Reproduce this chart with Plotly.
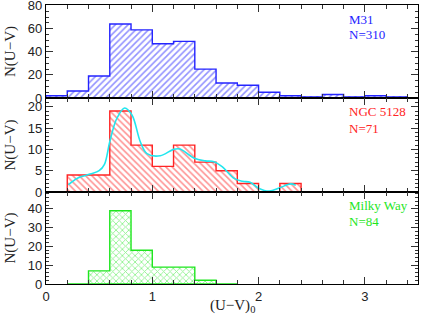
import numpy as np
import plotly.graph_objects as go
from plotly.subplots import make_subplots

# histogram counts, bin width 0.2 in (U-V)0
m31_start = 0.0
m31_counts = [2, 6, 19, 64, 59, 47, 49, 25, 13, 11, 5, 2, 1, 3, 1, 2, 1]
ngc_start = 0.0
ngc_counts = [0, 4, 4, 19, 11, 6, 11, 7, 5, 2, 0, 2, 0]
mw_start = 0.2
mw_counts = [0, 7, 39, 18, 9, 9, 2, 0]
binw = 0.2

# smoothed NGC 5128 distribution (cyan curve)
kde_x = [0.21, 0.3, 0.415, 0.5, 0.55, 0.6, 0.667, 0.74, 0.81, 0.887, 0.95, 1.075,
         1.2, 1.26, 1.39, 1.5, 1.58, 1.66, 1.77, 1.85, 1.92, 2.0, 2.1, 2.2, 2.3, 2.35]
kde_y = [1.7, 3.3, 4.2, 5.0, 6.5, 11.8, 17.3, 19.7, 18.0, 11.8, 9.0, 8.5,
         10.0, 10.1, 8.0, 7.3, 7.1, 5.9, 3.2, 2.5, 2.3, 0.9, 0.2, 1.0, 1.9, 1.6]

panels = [
    ("M31", "N=310", m31_start, m31_counts, "#2424ff", "/", [0, 80.5], 20, 5, 20, 34),
    ("NGC 5128", "N=71", ngc_start, ngc_counts, "#ff2424", "\\", [0, 22.05], 5, 1, 111, 128),
    ("Milky Way", "N=84", mw_start, mw_counts, "#1ee61e", "x", [0, 49], 10, 2, 205, 221),
]

fig = make_subplots(rows=3, cols=1, shared_xaxes=True, vertical_spacing=0,
                    row_heights=[93, 94, 92])

serif = "Liberation Serif"
sans = "Liberation Sans"

for i, (name, ntext, start, counts, col, shape, yr, dt, mdt, ty1, ty2) in enumerate(panels):
    row = i + 1
    counts = np.array(counts, dtype=float)
    edges = start + binw * np.arange(len(counts) + 1)
    centers = edges[:-1] + binw / 2
    fig.add_trace(go.Bar(x=centers, y=counts, width=binw,
                         marker=dict(color="white", line_width=0,
                                     pattern=dict(shape=shape, fgcolor=col, bgcolor="white",
                                                  size=4.5, solidity=0.35, fillmode="overlay")),
                         showlegend=False), row=row, col=1)
    sx = np.concatenate([[edges[0]], edges, [edges[0]]])
    sy = np.concatenate([[0], counts, [0, 0]])
    fig.add_trace(go.Scatter(x=sx, y=sy, mode="lines", line=dict(color=col, width=1.4, shape="hv"),
                             showlegend=False), row=row, col=1)
    fig.update_yaxes(range=yr, dtick=dt, minor=dict(dtick=mdt, ticks="inside", ticklen=3,
                                                    tickcolor="#333"),
                     ticks="inside", ticklen=7, tickcolor="#333", showline=True, linecolor="black",
                     linewidth=1.2, mirror="allticks", showgrid=False, zeroline=False,
                     automargin=False, ticklabeloverflow="allow",
                     tickfont=dict(family=sans, size=13, color="#222"),
                     title=dict(text="N(U\u2212V)", font=dict(family=serif, size=15, color="#222"),
                                standoff=8),
                     row=row, col=1)
    fig.add_annotation(text=name, xref="paper", yref="paper", x=(347 - 46) / 372,
                       y=1 - (ty1 - 5) / 279, xanchor="left", yanchor="middle", showarrow=False,
                       font=dict(family=serif, size=13, color=col))
    fig.add_annotation(text=ntext, xref="paper", yref="paper", x=(347 - 46) / 372,
                       y=1 - (ty2 - 5) / 279, xanchor="left", yanchor="middle", showarrow=False,
                       font=dict(family=serif, size=13, color=col))

fig.add_trace(go.Scatter(x=kde_x, y=kde_y, mode="lines", line=dict(color="#22e6ee", width=1.6,
                                                                   shape="spline", smoothing=1.0),
                         showlegend=False), row=2, col=1)

fig.update_xaxes(range=[0, 3.5], dtick=1, ticks="inside", ticklen=7, tickcolor="#333",
                 minor=dict(dtick=0.2, ticks="inside", ticklen=3.5, tickcolor="#333"),
                 showline=True, linecolor="black", linewidth=1.2, mirror="allticks",
                 showgrid=False, zeroline=False, automargin=False,
                 tickfont=dict(family=sans, size=13, color="#222"))

# x-axis title placed just under the tick labels
fig.add_annotation(text="(U\u2212V)<sub>0</sub>", xref="paper", yref="paper", x=(232 - 46) / 372,
                   y=-(306 - 284) / 279, xanchor="center", yanchor="middle", showarrow=False,
                   font=dict(family=serif, size=15, color="#222"))

fig.update_layout(width=421, height=320, margin=dict(l=46, r=3, t=5, b=36),
                  plot_bgcolor="white", paper_bgcolor="white", bargap=0)
fig.write_html("out.html", config={"displayModeBar": False},
               post_script="document.body.style.margin='0';")
